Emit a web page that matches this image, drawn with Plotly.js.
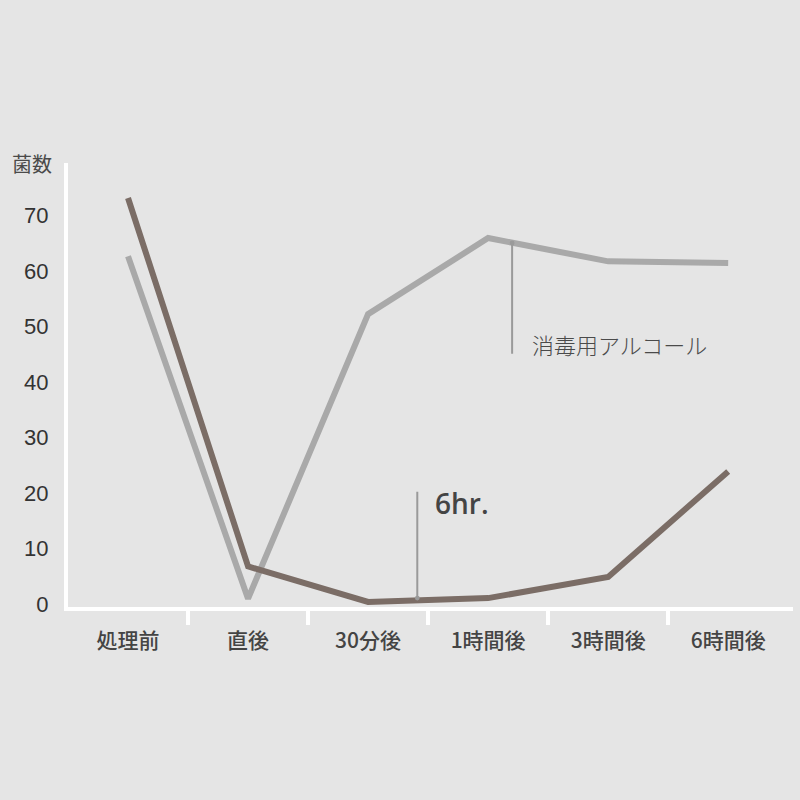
<!DOCTYPE html>
<html>
<head>
<meta charset="utf-8">
<script src="https://cdn.plot.ly/plotly-3.0.1.min.js"></script>
<style>
  html, body { margin: 0; padding: 0; background: #e5e5e5; }
  #chart { width: 800px; height: 800px; }
</style>
</head>
<body>
<div id="chart"></div>
<script>
const categories = ["処理前", "直後", "30分後", "1時間後", "3時間後", "6時間後"];
const alcohol = [62.6, 1.0, 52.2, 65.9, 61.7, 61.4];
const sixHr = [73.1, 6.8, 0.4, 1.1, 4.9, 23.9];
const yTicks = [0, 10, 20, 30, 40, 50, 60, 70];

const FONT = "Liberation Sans, Noto Sans CJK JP, sans-serif";
const JP = "Noto Sans CJK JP, sans-serif";
const xs = categories.map((_, i) => i);

const traces = [
  { x: xs, y: alcohol, type: "scatter", mode: "lines", name: "消毒用アルコール",
    line: { color: "#a9a9a9", width: 6 }, hoverinfo: "skip" },
  { x: xs, y: sixHr, type: "scatter", mode: "lines", name: "6hr.",
    line: { color: "#7b6d66", width: 6 }, hoverinfo: "skip" },
];

// leader lines for the two labels (tip on the series, tail near the text)
function leader(x, yTip, yTail) {
  return {
    x: x, y: yTip, ax: x, ay: yTail, xref: "x", yref: "y", axref: "x", ayref: "y",
    text: "", showarrow: true, arrowhead: 6, arrowsize: 0.6, arrowwidth: 2, arrowcolor: "#9a9a9a",
    standoff: 0, startstandoff: 0,
  };
}

const layout = {
  width: 800, height: 800,
  paper_bgcolor: "#e5e5e5", plot_bgcolor: "#e5e5e5",
  margin: { l: 68, r: 7, t: 163, b: 193 },
  showlegend: false,
  xaxis: {
    range: [-0.5, 5.54], tickvals: xs, ticktext: categories,
    showgrid: false, zeroline: false, ticks: "",
    showline: true, linecolor: "#ffffff", linewidth: 4,
    ticklabelstandoff: 12,
    tickfont: { family: JP, size: 21, color: "#444444", weight: 500 },
    minor: { tickvals: [0.5, 1.5, 2.5, 3.5, 4.5], ticks: "outside", ticklen: 14, tickwidth: 4, tickcolor: "#ffffff", showgrid: false },
  },
  yaxis: {
    range: [-0.5, 79.4], tickvals: yTicks,
    showgrid: false, zeroline: false, ticks: "",
    showline: true, linecolor: "#ffffff", linewidth: 4,
    ticklabelstandoff: 11,
    tickfont: { family: FONT, size: 22, color: "#333333" },
  },
  annotations: [
    { text: "菌数", xref: "paper", yref: "paper", x: -0.05, y: 1.0, xanchor: "center", yanchor: "middle",
      showarrow: false, font: { family: JP, size: 20, color: "#4a4a4a" } },
    leader(3.2, 65.0, 44.8),
    { text: "消毒用アルコール", xref: "x", yref: "y", x: 3.35, y: 46.9, xanchor: "left", yanchor: "middle",
      showarrow: false, font: { family: JP, size: 22, color: "#4a4a4a", weight: 300 } },
    leader(2.41, 1.1, 20.5),
    { text: "6hr.", xref: "x", yref: "y", x: 2.54, y: 18.2, xanchor: "left", yanchor: "middle",
      showarrow: false, font: { family: "Open Sans, sans-serif", size: 28, color: "#444444", weight: 600 } },
  ],
};

Plotly.newPlot("chart", traces, layout, { staticPlot: true });
</script>
</body>
</html>
